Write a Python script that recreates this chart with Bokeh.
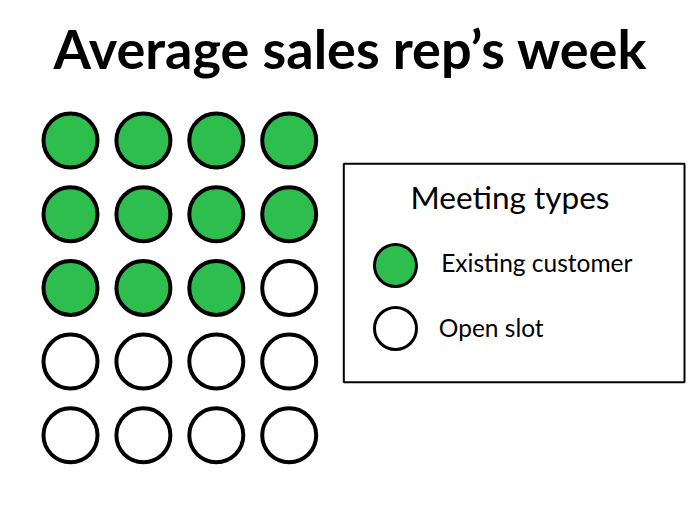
from bokeh.plotting import figure
from bokeh.models import Range1d, ColumnDataSource
from bokeh.core.properties import value
from bokeh.embed import file_html
from bokeh.resources import INLINE

# ---- data ----
title_text = "Average sales rep\u2019s week"
legend_title = "Meeting types"
categories = ["Existing customer", "Open slot"]
counts = [11, 9]
fill_colors = ["#2DBE4E", "#FFFFFF"]
n_cols = 4
n_rows = 5

# ---- layout constants (pixels) ----
W, H = 700, 505
x0, dx = 70, 72.9
y0, dy = 140, 73.7
FONT = "Lato"

p = figure(width=W, height=H, output_backend="svg", toolbar_location=None,
           x_range=Range1d(0, W), y_range=Range1d(H, 0), min_border=0)
p.axis.visible = False
p.grid.visible = False
p.outline_line_color = None
p.background_fill_color = "white"

# waffle cells
xs, ys, cs = [], [], []
k = 0
for cat_i, n in enumerate(counts):
    for _ in range(n):
        r, c = divmod(k, n_cols)
        xs.append(x0 + c * dx)
        ys.append(y0 + r * dy)
        cs.append(fill_colors[cat_i])
        k += 1
src = ColumnDataSource(dict(x=xs, y=ys, color=cs))
p.scatter("x", "y", source=src, size=54, fill_color="color",
          line_color="black", line_width=4)

# title
p.text(x=[350], y=[48], text=[title_text], text_align="center",
       text_baseline="alphabetic", text_font=value(FONT),
       text_font_style="bold", text_font_size="54px", text_color="black")

# legend box
bx0, bx1, by0, by1 = 343.3, 684, 163.3, 381.7
p.quad(left=[bx0], right=[bx1], top=[by0], bottom=[by1],
       fill_color="white", line_color="black", line_width=2)
p.text(x=[509.5], y=[196], text=[legend_title], text_align="center",
       text_baseline="alphabetic", text_font=value(FONT),
       text_font_size="31.5px", text_color="black")

leg_y = [265, 328]
leg_tx = [440.7, 438.3]
leg_ty = [262, 327]
p.scatter(x=[395, 395], y=leg_y, size=42, fill_color=fill_colors,
          line_color="black", line_width=3)
p.text(x=leg_tx, y=leg_ty, text=categories, text_align="left",
       text_baseline="alphabetic", text_font=value(FONT),
       text_font_size="24.5px", text_color="black")

open("out.html", "w").write(file_html(p, INLINE))
